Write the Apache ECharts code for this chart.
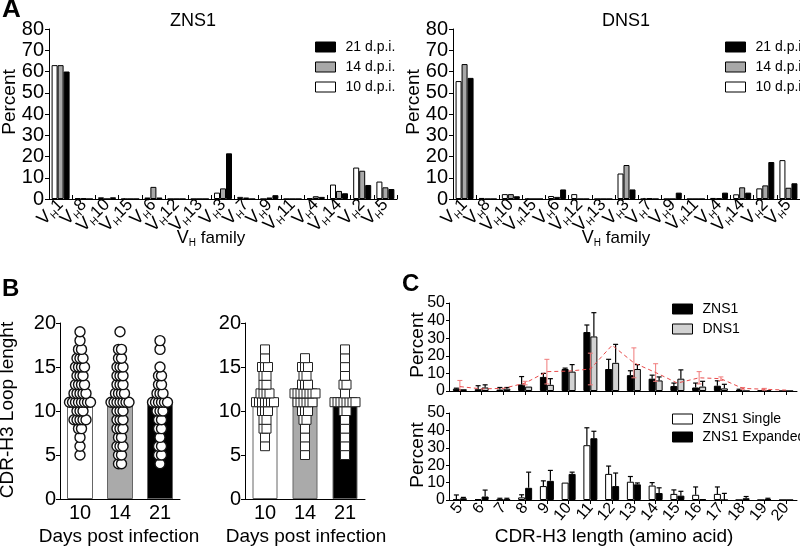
<!DOCTYPE html>
<html><head><meta charset="utf-8">
<script src="https://cdn.jsdelivr.net/npm/echarts@6/dist/echarts.min.js"></script>
<style>html,body{margin:0;padding:0;background:#fff}#c{width:800px;height:548px}</style>
</head><body><div id="c"></div>
<script>
const FONT = 'Liberation Sans, Arial, Helvetica, sans-serif';

// ---------- Panel A data ----------
const vhFamilies = ['1','8','10','15','6','12','13','3','7','9','11','4','14','2','5'];
const znsDpi10 = [63, 0.3, 0.8, 0, 0.7, 0, 0, 3, 1, 0, 0, 0.3, 6.8, 14.8, 8.2];
const znsDpi14 = [63, 0.3, 0, 0, 5.7, 0, 0, 5, 0.7, 0.7, 0, 1.3, 3.8, 13.3, 5.5];
const znsDpi21 = [60, 0, 0.8, 0, 0.7, 0, 0, 21.5, 0, 1.8, 0, 1, 2.7, 6.6, 4.7];
const dnsDpi10 = [55.5, 0.5, 2.3, 0, 1.4, 2.3, 0, 12, 0, 0, 0, 0.5, 2.2, 5, 18.3];
const dnsDpi14 = [63.5, 0, 2.3, 0, 1, 0, 0, 16, 0.3, 0, 0, 0.3, 5.5, 6.4, 5.3];
const dnsDpi21 = [57, 0, 1.3, 0, 4.5, 0, 0, 4.5, 0, 3, 0, 3, 3, 17.4, 7.4];

// ---------- Panel B data ----------
const bDays = ['10', '14', '21'];
const bLengths = [4,5,6,7,8,9,10,11,12,13,14,15,16,17,18,19];
const bBarLeft = [11, 11, 11];
const bBarRight = [11.3, 11.5, 11.3];
// number of clones at each CDR-H3 length (bLengths) - left plot (circles)
const circ10 = [0,1,1,1,2,5,3,8,5,4,3,4,3,2,1,1];
const circ14 = [2,2,3,2,3,3,3,7,4,3,3,3,2,2,0,1];
const circ21 = [1,2,2,1,2,2,3,6,3,2,2,1,0,1,1,0];
// right plot (squares)
const sq10 = [0,0,1,1,2,2,3,7,4,2,2,3,1,1,0,0];
const sq14 = [0,1,1,1,1,2,3,6,8,3,2,3,1,0,0,0];
const sq21 = [0,1,1,1,1,1,2,8,1,2,1,1,1,1,0,0];

// ---------- Panel C data ----------
const cLengths = ['5','6','7','8','9','10','11','12','13','14','15','16','17','18','19','20'];
const zns1Mean = [1.3, 1, 0.8, 3.7, 8, 12.5, 33.5, 12.5, 9, 7, 2.8, 2, 3, 0.5, 0.3, 0];
const zns1Sd   = [0.3, 2, 1.2, 4.5, 2, 0.5, 4, 5.5, 2.5, 2, 1.7, 2.5, 2.8, 0.5, 0, 0];
const dns1Mean = [1, 2, 1.3, 2.5, 3.5, 11, 31, 16, 12.5, 6, 7, 2.5, 1.5, 0, 0.3, 0];
const dns1Sd   = [0, 1.5, 0.7, 0, 3.5, 4, 13.5, 10.5, 2.5, 2, 5, 3, 2.3, 0, 0, 0];
const refMean  = [2.5, 1.2, 1.5, 4.5, 11, 11.3, 12.5, 26, 16, 10.5, 4.5, 7.5, 7, 1.5, 1, 0.5];
const refSd    = [3.5, 0, 0, 1, 7, 0, 9, 0, 8.5, 5, 0, 3.5, 1, 0.5, 0.5, 0];
const singleMean = [0.3, 0.5, 0.3, 1.5, 8, 10, 31.5, 15, 10.5, 8.3, 3.5, 3, 3.5, 0, 0, 0];
const singleSd   = [2.6, 0, 0.7, 1.5, 3, 0, 10, 4.5, 3, 1.7, 2.3, 4.5, 4, 0, 0, 0];
const expMean = [1, 2, 0.3, 7, 11, 15, 35.5, 8, 9, 4, 2.5, 0.5, 0, 1, 0.5, 0];
const expSd   = [0.5, 3.7, 0.7, 9, 6, 1, 4, 7.5, 0.8, 3, 2.5, 0, 3.8, 1, 0.5, 0];

// ---------- helpers ----------
function swarm(counts, catIdx, spacingPx, catPx) {
  const pts = [];
  counts.forEach((n, i) => {
    for (let k = 0; k < n; k++) {
      const off = (k - (n - 1) / 2) * spacingPx;
      pts.push([catIdx + 0.5 + off / catPx, bLengths[i]]);
    }
  });
  return pts;
}
function errData(mean, sd, both) {
  return mean.map((m, i) => [i, both ? m - sd[i] : m, m + sd[i]]);
}
function errSeries(xi, yi, data, offsetPx, color, both, lw) {
  return {
    type: 'custom', xAxisIndex: xi, yAxisIndex: yi, z: 5,
    encode: { x: 0, y: [1, 2] },
    data: data,
    renderItem: function (params, api) {
      const c = api.value(0), lo = api.value(1), hi = api.value(2);
      if (!(hi - lo > 0.05)) return null;
      const p1 = api.coord([c, Math.max(lo, 0)]);
      const p2 = api.coord([c, hi]);
      const x = p1[0] + offsetPx;
      const st = { stroke: color, lineWidth: lw };
      const ch = [
        { type: 'line', shape: { x1: x, y1: p1[1], x2: x, y2: p2[1] }, style: st },
        { type: 'line', shape: { x1: x - 2.5, y1: p2[1], x2: x + 2.5, y2: p2[1] }, style: st }
      ];
      if (both && lo > 0) ch.push({ type: 'line', shape: { x1: x - 2.5, y1: p1[1], x2: x + 2.5, y2: p1[1] }, style: st });
      return { type: 'group', children: ch };
    }
  };
}
const txt = (s) => ({ color: '#000', fontFamily: FONT, fontSize: s });
const vhRich = {
  v: { fontSize: 18, color: '#000', fontFamily: FONT },
  h: { fontSize: 10, color: '#000', fontFamily: FONT, padding: [10, 0, 0, 0] },
  n: { fontSize: 17, color: '#000', fontFamily: FONT }
};

function aXAxis(gi) {
  return {
    type: 'category', gridIndex: gi, data: vhFamilies,
    axisLine: { lineStyle: { color: '#000', width: 1 } },
    axisTick: { show: true, inside: true, length: 4, interval: 0, lineStyle: { color: '#000' } },
    axisLabel: { interval: 0, rotate: 45, margin: 3, formatter: v => '{v|V}{h|H}{n|' + v + '}', rich: vhRich }
  };
}
function aYAxis(gi) {
  return {
    type: 'value', gridIndex: gi, min: 0, max: 80, interval: 10,
    axisLine: { show: true, lineStyle: { color: '#000' } },
    axisTick: { show: true, length: 4, lineStyle: { color: '#000' } },
    axisLabel: Object.assign(txt(20), { margin: 5 }),
    splitLine: { show: false }
  };
}
function bXAxis(gi) {
  return {
    type: 'category', gridIndex: gi, data: bDays,
    axisLine: { lineStyle: { color: '#000' } }, axisTick: { show: false },
    axisLabel: Object.assign(txt(20), { margin: 4 })
  };
}
function bXVal(gi) {
  return { type: 'value', gridIndex: gi, min: 0, max: 3, show: false };
}
function bYAxis(gi) {
  return {
    type: 'value', gridIndex: gi, min: 0, max: 20, interval: 5,
    axisLine: { show: true, lineStyle: { color: '#000' } },
    axisTick: { show: true, length: 4, lineStyle: { color: '#000' } },
    axisLabel: Object.assign(txt(20), { margin: 4 }), splitLine: { show: false }
  };
}
function cXAxis(gi, labels) {
  return {
    type: 'category', gridIndex: gi, data: cLengths,
    axisLine: { lineStyle: { color: '#000' } },
    axisTick: { show: true, alignWithLabel: true, interval: 0, length: 4, lineStyle: { color: '#000' } },
    axisLabel: labels ? Object.assign(txt(16), { interval: 0, rotate: 50, margin: 5 }) : { show: false }
  };
}
function cYAxis(gi) {
  return {
    type: 'value', gridIndex: gi, min: 0, max: 50, interval: 10,
    axisLine: { show: true, lineStyle: { color: '#000' } },
    axisTick: { show: true, length: 3, lineStyle: { color: '#000' } },
    axisLabel: Object.assign(txt(16), { margin: 4 }), splitLine: { show: false }
  };
}
function aBar(name, gi, data, color) {
  return { type: 'bar', name, xAxisIndex: gi, yAxisIndex: gi, data, barWidth: 6, barGap: '0%',
    itemStyle: { color, borderColor: '#000', borderWidth: 1 } };
}
function legendItem(name, color) {
  return { name, icon: 'rect', itemStyle: { color, borderColor: '#000', borderWidth: 1 } };
}
function legend(left, top, items, gap) {
  return { left, top, orient: 'vertical', itemWidth: 20, itemHeight: 10, itemGap: gap,
    selectedMode: false, data: items,
    textStyle: Object.assign(txt(14), { padding: [0, 0, 0, 5] }) };
}
function label(text, x, y, size, opts) {
  opts = opts || {};
  const el = { type: 'text', x, y, silent: true,
    style: { text, fontSize: size, fontFamily: FONT, fontWeight: opts.bold ? 'bold' : 'normal', fill: '#000',
      align: opts.align || 'center', verticalAlign: 'middle' } };
  if (opts.rich) el.style.rich = opts.rich;
  if (opts.rot) el.rotation = opts.rot;
  return el;
}
const famRich = { v: { fontSize: 18, fontFamily: FONT, fill: '#000' }, h: { fontSize: 10, fontFamily: FONT, fill: '#000', padding: [10, 0, 0, 0] }, f: { fontSize: 17, fontFamily: FONT, fill: '#000' } };

const GRAY_A = '#a8a8a8', GRAY_C = '#d2d2d2';

const option = {
  animation: false,
  backgroundColor: '#fff',
  grid: [
    { left: 49, top: 29, width: 348, height: 170, outerBoundsMode: 'none' },
    { left: 453, top: 29, width: 347, height: 170, outerBoundsMode: 'none' },
    { left: 60, top: 323, width: 120, height: 176, outerBoundsMode: 'none' },
    { left: 245, top: 323, width: 120, height: 176, outerBoundsMode: 'none' },
    { left: 449, top: 303, width: 348, height: 88, outerBoundsMode: 'none' },
    { left: 449, top: 413, width: 348, height: 87, outerBoundsMode: 'none' }
  ],
  xAxis: [aXAxis(0), aXAxis(1), bXAxis(2), bXAxis(3), bXVal(2), bXVal(3), cXAxis(4, false), cXAxis(5, true)],
  yAxis: [aYAxis(0), aYAxis(1), bYAxis(2), bYAxis(3), cYAxis(4), cYAxis(5)],
  legend: [
    legend(310, 35, [legendItem('21 d.p.i.', '#000'), legendItem('14 d.p.i.', GRAY_A), legendItem('10 d.p.i.', '#fff')], 6),
    legend(720, 35, [legendItem('21 d.p.i.', '#000'), legendItem('14 d.p.i.', GRAY_A), legendItem('10 d.p.i.', '#fff')], 6),
    legend(667, 297, [legendItem('ZNS1', '#000'), legendItem('DNS1', GRAY_C)], 6),
    legend(667, 407, [legendItem('ZNS1 Single', '#fff'), legendItem('ZNS1 Expanded', '#000')], 4)
  ],
  series: [
    aBar('10 d.p.i.', 0, znsDpi10, '#fff'),
    aBar('14 d.p.i.', 0, znsDpi14, GRAY_A),
    aBar('21 d.p.i.', 0, znsDpi21, '#000'),
    aBar('10 d.p.i.', 1, dnsDpi10, '#fff'),
    aBar('14 d.p.i.', 1, dnsDpi14, GRAY_A),
    aBar('21 d.p.i.', 1, dnsDpi21, '#000'),
    { type: 'bar', xAxisIndex: 2, yAxisIndex: 2, barWidth: 26,
      data: bBarLeft.map((v, i) => ({ value: v, itemStyle: { color: ['#fff', '#aaa', '#000'][i] } })),
      itemStyle: { borderColor: '#666', borderWidth: 1 } },
    { type: 'bar', xAxisIndex: 3, yAxisIndex: 3, barWidth: 25,
      data: bBarRight.map((v, i) => ({ value: v, itemStyle: { color: ['#fff', '#aaa', '#000'][i] } })),
      itemStyle: { borderColor: '#666', borderWidth: 1 } },
    { type: 'scatter', xAxisIndex: 4, yAxisIndex: 2, symbol: 'circle', symbolSize: 10, z: 4,
      data: [].concat(swarm(circ10, 0, 3, 40), swarm(circ14, 1, 3, 40), swarm(circ21, 2, 3, 40)),
      itemStyle: { color: '#fff', borderColor: '#111', borderWidth: 1.4, opacity: 1 } },
    { type: 'scatter', xAxisIndex: 5, yAxisIndex: 3, symbol: 'rect', symbolSize: 9, z: 4,
      data: [].concat(swarm(sq10, 0, 3, 40), swarm(sq14, 1, 3, 40), swarm(sq21, 2, 3, 40)),
      itemStyle: { color: '#fff', borderColor: '#222', borderWidth: 1, opacity: 1 } },
    { type: 'bar', name: 'ZNS1', xAxisIndex: 6, yAxisIndex: 4, data: zns1Mean, barWidth: 7, barGap: '0%',
      itemStyle: { color: '#000', borderColor: '#000', borderWidth: 1 } },
    { type: 'bar', name: 'DNS1', xAxisIndex: 6, yAxisIndex: 4, data: dns1Mean, barWidth: 7, barGap: '0%',
      itemStyle: { color: GRAY_C, borderColor: '#000', borderWidth: 1 } },
    errSeries(6, 4, errData(zns1Mean, zns1Sd, false), -3.5, '#000', false, 1.2),
    errSeries(6, 4, errData(dns1Mean, dns1Sd, false), 3.5, '#000', false, 1.2),
    { type: 'line', xAxisIndex: 6, yAxisIndex: 4, data: refMean, symbol: 'none', z: 6,
      lineStyle: { color: '#e84a4a', width: 1, type: [4, 3] } },
    errSeries(6, 4, errData(refMean, refSd, true), 0, '#f07a7a', true, 1),
    { type: 'bar', name: 'ZNS1 Single', xAxisIndex: 7, yAxisIndex: 5, data: singleMean, barWidth: 7, barGap: '0%',
      itemStyle: { color: '#fff', borderColor: '#000', borderWidth: 1 } },
    { type: 'bar', name: 'ZNS1 Expanded', xAxisIndex: 7, yAxisIndex: 5, data: expMean, barWidth: 7, barGap: '0%',
      itemStyle: { color: '#000', borderColor: '#000', borderWidth: 1 } },
    errSeries(7, 5, errData(singleMean, singleSd, false), -3.5, '#000', false, 1.2),
    errSeries(7, 5, errData(expMean, expSd, false), 3.5, '#000', false, 1.2)
  ],
  graphic: [
    label('A', 2, 10, 26, { bold: true, align: 'left' }),
    label('B', 2, 289, 24, { bold: true, align: 'left' }),
    label('C', 402, 284, 24, { bold: true, align: 'left' }),
    label('ZNS1', 193, 21, 18),
    label('DNS1', 626, 21, 18),
    label('Percent', 10, 102, 19, { rot: Math.PI / 2 }),
    label('Percent', 414, 102, 19, { rot: Math.PI / 2 }),
    label('{v|V}{h|H}{f| family}', 211, 238, 17, { rich: famRich }),
    label('{v|V}{h|H}{f| family}', 616, 238, 17, { rich: famRich }),
    label('CDR-H3 Loop lenght', 8, 410, 19, { rot: Math.PI / 2 }),
    label('Days post infection', 119, 537, 19),
    label('Days post infection', 306, 537, 19),
    label('Percent', 418, 345, 19, { rot: Math.PI / 2 }),
    label('Percent', 418, 455, 19, { rot: Math.PI / 2 }),
    label('CDR-H3 length (amino acid)', 614, 537, 19)
  ]
};
const chart = echarts.init(document.getElementById('c'), null, { renderer: 'canvas' });
chart.setOption(option);
</script></body></html>
